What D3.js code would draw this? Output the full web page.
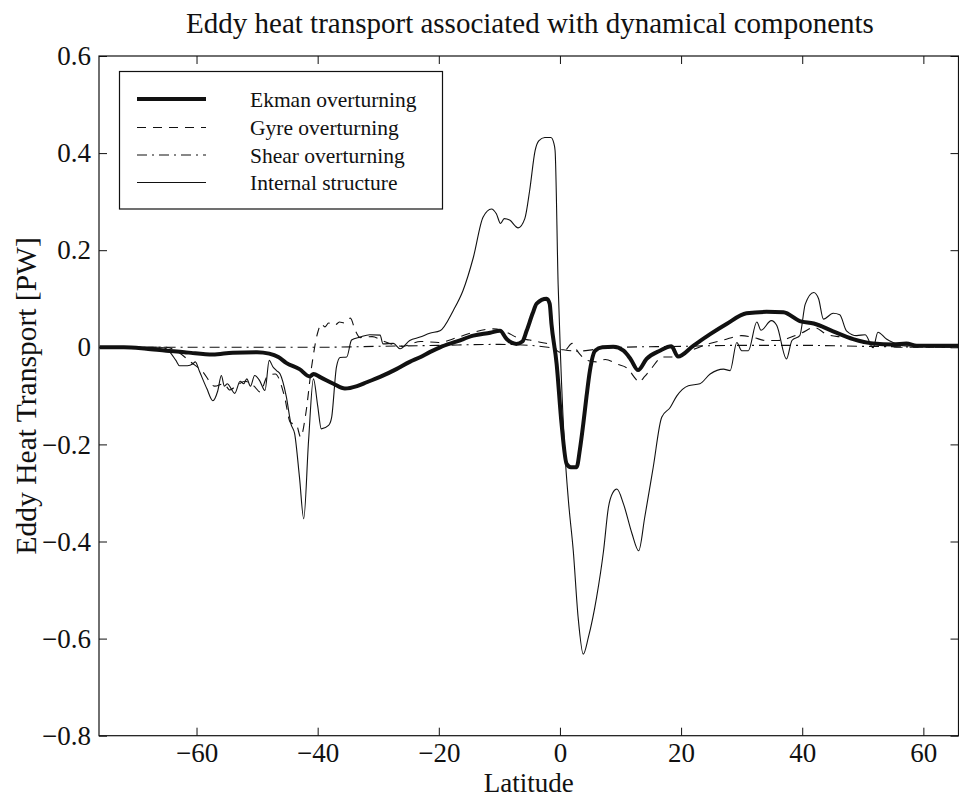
<!DOCTYPE html>
<html><head><meta charset="utf-8">
<script src="https://cdn.jsdelivr.net/npm/d3@7"></script>
<style>
html,body{margin:0;padding:0;background:#fff;}
text{font-family:"Liberation Serif","Times New Roman",serif;fill:#111;}
</style></head>
<body><svg id="c" width="959" height="799"></svg>
<script>
const titleText = "Eddy heat transport associated with dynamical components";
const xLabel = "Latitude";
const yLabel = "Eddy Heat Transport [PW]";
const xTicks = [-60,-40,-20,0,20,40,60];
const yTicks = [-0.8,-0.6,-0.4,-0.2,0,0.2,0.4,0.6];
const seriesNames = ["Ekman overturning","Gyre overturning","Shear overturning","Internal structure"];

const ekmanLat = [-76,-72,-68.3,-65,-62,-60.6,-57.3,-54,-50,-48,-46.5,-45.2,-43,-41.3,-40.7,-39.5,-37.4,-35.5,-33.5,-31.9,-29.7,-27,-24.8,-23,-21.5,-19.8,-17,-14.3,-11.5,-9.9,-8.8,-7.2,-6.2,-5.5,-4.5,-3.85,-2.2,-1.7,-1.4,-0.55,0.27,1.1,1.8,2.75,3.3,3.85,4.4,4.95,5.8,7,8.8,10.5,11.7,12.9,14.3,16.5,18.4,19.5,22,24.8,27.5,30.8,34.1,36.9,39.6,41.9,45.1,48.4,51.7,55,57.2,58.9,66];
const ekmanVal = [0,0,-0.003,-0.007,-0.01,-0.012,-0.015,-0.011,-0.01,-0.013,-0.02,-0.032,-0.045,-0.06,-0.055,-0.062,-0.075,-0.085,-0.08,-0.072,-0.061,-0.045,-0.03,-0.02,-0.01,0,0.012,0.024,0.03,0.034,0.017,0.007,0.012,0.034,0.07,0.09,0.10,0.09,0.048,-0.034,-0.158,-0.24,-0.247,-0.247,-0.21,-0.158,-0.1,-0.048,-0.007,0,0.001,-0.007,-0.025,-0.047,-0.024,-0.007,0.002,-0.019,0.003,0.027,0.048,0.07,0.073,0.072,0.054,0.049,0.033,0.017,0.008,0.006,0.008,0.003,0.003];

const gyreLat = [-76,-65,-63,-61,-59,-57,-55.5,-54.5,-53.5,-52,-50.5,-49.5,-48.3,-47,-45.5,-44.5,-43.5,-42.8,-42,-41,-40,-39.4,-38.8,-38.2,-37.2,-36.4,-35.6,-34.6,-33.8,-33,-31,-29,-26,-23,-20,-17,-14,-11,-9,-7,-5,-3,-1.5,0,1,2,3,4.5,6,7.5,9.5,11,12.5,13,14,15,17,19,21,24,27,30,32,34,36,38,40,42,44,47,50,53,56,66];
const gyreVal = [0,0,-0.01,-0.03,-0.05,-0.08,-0.075,-0.088,-0.08,-0.07,-0.08,-0.092,-0.06,-0.055,-0.1,-0.155,-0.16,-0.185,-0.14,-0.04,0.03,0.048,0.042,0.05,0.045,0.052,0.05,0.06,0.035,0.02,0.022,0.012,0.002,0.012,0.01,0.02,0.032,0.038,0.032,0.02,0.015,0.01,0.005,-0.01,-0.005,0.008,-0.01,-0.027,-0.03,-0.025,-0.035,-0.042,-0.065,-0.072,-0.06,-0.045,-0.02,-0.02,-0.01,0.005,0.015,0.024,0.02,0.014,0.014,0.02,0.03,0.041,0.027,0.02,0.012,0.005,0,0];

const shearLat = [-76,-40,-30,-20,-10,-5,-2,0,3,6,10,20,30,40,50,66];
const shearVal = [0,0,0.002,0.004,0.006,0.004,0,-0.004,-0.008,-0.004,0,0.002,0.004,0.004,0.002,0];

const internalLat = [-76,-66,-65,-63.4,-62.8,-61.5,-60.6,-60.2,-59.5,-58.3,-57.3,-56.5,-55.9,-55.4,-54.9,-54.3,-53.7,-52.8,-52.2,-51.7,-51.1,-50.4,-49.6,-48.7,-48,-47.4,-46.8,-46.2,-45.2,-44.4,-43.8,-43,-42.3,-41.5,-40.7,-40,-39.4,-38.2,-37.7,-36.9,-36.3,-35.2,-34.4,-33,-31.4,-29.7,-29.2,-27.5,-26.4,-24.8,-23.1,-21.5,-19.8,-17.6,-16,-14.3,-12.7,-11.3,-10.5,-9.8,-9.2,-8.3,-6.9,-5.8,-5,-4.1,-3.5,-2.5,-1.5,-1,-0.8,-0.3,0.1,0.8,1.4,2.2,3,3.85,4.7,6.05,7.2,8,8.7,9.4,10.5,11.9,13,14,15.4,16.8,18.2,19.3,21.2,23.1,24.8,27,28.1,29.2,30,31.1,32.5,33.2,34.9,35.8,37.4,38.3,39.6,40.5,41.9,42.7,43.5,45.1,46.2,47.3,49,50.4,51.7,52.5,53.9,55,57,66];
const internalVal = [0,0,-0.003,-0.027,-0.038,-0.038,-0.034,-0.03,-0.05,-0.085,-0.11,-0.09,-0.058,-0.08,-0.075,-0.085,-0.095,-0.07,-0.075,-0.065,-0.08,-0.058,-0.068,-0.089,-0.027,-0.04,-0.048,-0.055,-0.1,-0.158,-0.178,-0.268,-0.353,-0.192,-0.065,-0.12,-0.168,-0.161,-0.145,-0.041,-0.021,-0.02,0.015,0.021,0.026,0.025,0.007,0.008,-0.003,0.014,0.021,0.029,0.034,0.076,0.117,0.185,0.268,0.285,0.275,0.255,0.265,0.262,0.246,0.265,0.323,0.405,0.425,0.432,0.432,0.42,0.405,0.13,-0.02,-0.213,-0.316,-0.419,-0.556,-0.632,-0.597,-0.515,-0.419,-0.33,-0.3,-0.292,-0.323,-0.384,-0.419,-0.35,-0.247,-0.144,-0.124,-0.1,-0.079,-0.075,-0.055,-0.045,-0.048,0.01,-0.007,-0.007,0.052,0.035,0.055,0.045,-0.024,0.014,0.024,0.089,0.113,0.1,0.058,0.07,0.067,0.034,0.024,0.026,-0.001,0.031,0.017,0.01,0.003,0.003];

const svg = d3.select("#c");
const L = 99, R = 958.5, T = 56, B = 735.7;
const x = d3.scaleLinear().domain([-76.1, 65.8]).range([L, R]);
const y = d3.scaleLinear().domain([-0.8, 0.6]).range([B, T]);
const ink = "#111";

svg.append("defs").append("clipPath").attr("id","clip")
  .append("rect").attr("x",L).attr("y",T).attr("width",R-L).attr("height",B-T);

const fmtY = d => d === 0 ? "0" : d3.format(".1f")(d);
function styleAxis(g){
  g.select(".domain").remove();
  g.selectAll(".tick line").attr("stroke",ink).attr("stroke-width",1);
  g.selectAll(".tick text").attr("font-size",27).attr("fill",ink)
    .attr("font-family","'Liberation Serif','Times New Roman',serif");
}
svg.append("g").attr("transform",`translate(0,${B})`)
  .call(d3.axisBottom(x).tickValues(xTicks).tickSize(-8).tickPadding(7).tickFormat(d3.format("d")))
  .call(styleAxis);
svg.append("g").attr("transform",`translate(0,${T})`)
  .call(d3.axisTop(x).tickValues(xTicks).tickSize(-8).tickFormat(""))
  .call(styleAxis);
svg.append("g").attr("transform",`translate(${L},0)`)
  .call(d3.axisLeft(y).tickValues(yTicks).tickSize(-8).tickPadding(8).tickFormat(fmtY))
  .call(styleAxis);
svg.append("g").attr("transform",`translate(${R},0)`)
  .call(d3.axisRight(y).tickValues(yTicks).tickSize(-8).tickFormat(""))
  .call(styleAxis);

svg.append("rect").attr("x",L).attr("y",T).attr("width",R-L).attr("height",B-T)
  .attr("fill","none").attr("stroke",ink).attr("stroke-width",1.2);

const line = d3.line().curve(d3.curveMonotoneX).x(d => x(d[0])).y(d => y(d[1]));
const styles = [
  {lat: ekmanLat, val: ekmanVal, w: 4, dash: null},
  {lat: gyreLat, val: gyreVal, w: 1.1, dash: "9,7"},
  {lat: shearLat, val: shearVal, w: 1.1, dash: "10,5,2,5"},
  {lat: internalLat, val: internalVal, w: 1.1, dash: null}
];
const plot = svg.append("g").attr("clip-path","url(#clip)");
[3,2,1,0].forEach(i => {
  const s = styles[i];
  plot.append("path").datum(d3.zip(s.lat, s.val))
    .attr("d", line).attr("fill","none").attr("stroke",ink)
    .attr("stroke-width", s.w).attr("stroke-linejoin","round")
    .attr("stroke-dasharray", s.dash);
});

// legend
const lg = svg.append("g");
lg.append("rect").attr("x",119.5).attr("y",71.5).attr("width",323).attr("height",137.5)
  .attr("fill","#fff").attr("stroke",ink).attr("stroke-width",1.2);
const rowY = [99, 127.5, 155, 182.5];
seriesNames.forEach((n,i) => {
  const s = styles[i];
  lg.append("line").attr("x1",137).attr("x2",206).attr("y1",rowY[i]).attr("y2",rowY[i])
    .attr("stroke",ink).attr("stroke-width",s.w).attr("stroke-dasharray",s.dash);
  lg.append("text").attr("x",250).attr("y",rowY[i]).attr("dy","0.35em")
    .attr("font-size",21.5).text(n);
});

svg.append("text").attr("x",530).attr("y",33).attr("text-anchor","middle")
  .attr("font-size",29).text(titleText);
svg.append("text").attr("x",(L+R)/2).attr("y",792).attr("text-anchor","middle")
  .attr("font-size",27).text(xLabel);
svg.append("text").attr("transform",`translate(36,${(T+B)/2}) rotate(-90)`)
  .attr("text-anchor","middle").attr("font-size",29.5).text(yLabel);
</script></body></html>
